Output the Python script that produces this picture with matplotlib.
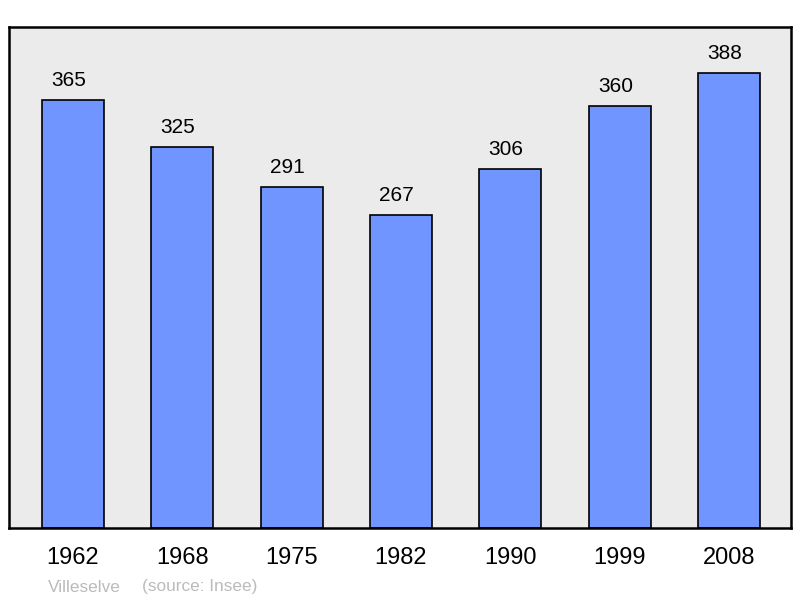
import matplotlib
matplotlib.use('Agg')
import matplotlib.pyplot as plt

years = ['1962', '1968', '1975', '1982', '1990', '1999', '2008']
population = [365, 325, 291, 267, 306, 360, 388]
place = 'Villeselve'
source = '(source: Insee)'

plt.rcParams['font.family'] = ['Liberation Sans', 'DejaVu Sans']

fig = plt.figure(figsize=(8, 5.98), dpi=100)
ax = fig.add_axes([9 / 800, 70 / 598, 782 / 800, 501 / 598])
ax.set_facecolor('#ebebeb')

x = range(len(years))
ax.bar(x, population, width=0.566, color='#7095ff', edgecolor='black', linewidth=1.2)
for i, v in zip(x, population):
    ax.annotate(str(v), xy=(i, v), xytext=(-3, 10), textcoords='offset points',
                ha='center', va='baseline', fontsize=15)

ax.set_xlim(-0.584, 6.566)
ax.set_ylim(0, 427)
ax.set_yticks([])
ax.set_xticks(list(x))
ax.set_xticklabels(years, fontsize=17)
ax.tick_params(axis='x', length=0, pad=13.5)
for s in ax.spines.values():
    s.set_linewidth(1.8)

fig.text(48 / 800, 1 - 587 / 598, place, color='#bbbbbb', fontsize=12.4, va='center')
fig.text(142 / 800, 1 - 587 / 598, source, color='#bbbbbb', fontsize=12.4, va='center')

fig.savefig('out.png', dpi=100)
